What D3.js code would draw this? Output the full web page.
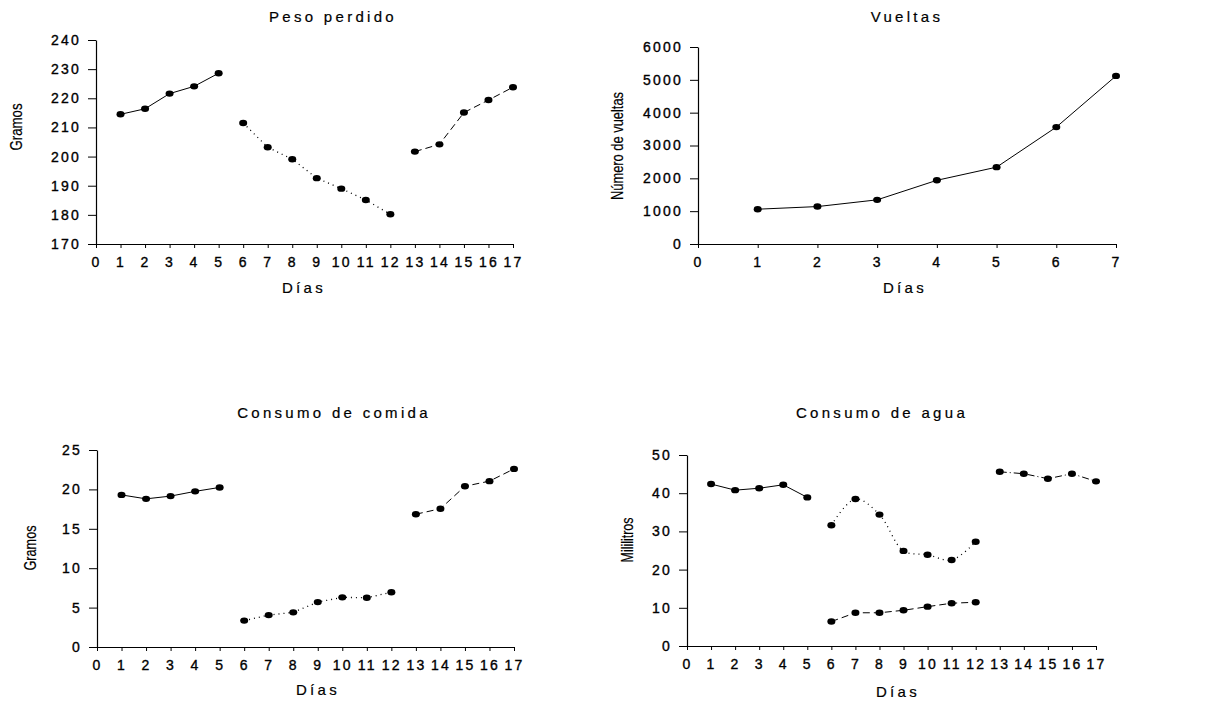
<!DOCTYPE html>
<html lang="es">
<head>
<meta charset="utf-8">
<title>Peso, vueltas, comida y agua</title>
<script src="https://cdn.jsdelivr.net/npm/d3@7/dist/d3.min.js"></script>
<style>
    body { margin: 0; background: #fff; }
    svg { display: block; }
    .tick text { font-family: "Liberation Sans", Arial, sans-serif; font-size: 14px; letter-spacing: 2.2px; fill: #000; stroke: #000; stroke-width: 0.35px; }
    .title, .xlab { font-family: "Liberation Sans", Arial, sans-serif; font-size: 15px; letter-spacing: 3.3px; fill: #000; stroke: #000; stroke-width: 0.2px; }
    .ylab { font-family: "Liberation Sans", Arial, sans-serif; font-size: 17px; fill: #000; stroke: #000; stroke-width: 0.2px; }
    .domain, .tick line { stroke: #000; }
</style>
</head>
<body>
<div id="chart"></div>
<script>
"use strict";
// ---- datos ----
var dias17 = [0,1,2,3,4,5,6,7,8,9,10,11,12,13,14,15,16,17];
var dias7 = [0,1,2,3,4,5,6,7];
var diasBase = [1,2,3,4,5];
var diasRestr = [6,7,8,9,10,11,12];
var diasRecup = [13,14,15,16,17];

var pesoTicks = [170,180,190,200,210,220,230,240];
var pesoBase = [214.5,216.4,221.6,224.1,228.6];
var pesoRestr = [211.5,203.2,199.1,192.6,189.0,185.1,180.2];
var pesoRecup = [201.7,204.2,215.1,219.4,223.8];

var vueltasTicks = [0,1000,2000,3000,4000,5000,6000];
var vueltasDias = [1,2,3,4,5,6,7];
var vueltas = [1060,1140,1345,1940,2340,3560,5120];

var comidaTicks = [0,5,10,15,20,25];
var comidaBase = [19.3,18.8,19.15,19.75,20.25];
var comidaRestr = [3.35,4.05,4.4,5.7,6.3,6.25,6.95];
var comidaRecup = [16.85,17.55,20.4,21.05,22.6];

var aguaTicks = [0,10,20,30,40,50];
var aguaBase = [42.4,40.8,41.3,42.2,38.9];
var aguaRestrA = [31.6,38.5,34.4,24.9,23.9,22.5,27.3];
var aguaRestrB = [6.4,8.7,8.7,9.35,10.3,11.2,11.45];
var aguaRecup = [45.6,45.1,43.8,45.1,43.1];

var svg = d3.select("#chart").append("svg")
    .attr("width", 1216)
    .attr("height", 702);

function zip(xs, ys) {
    return xs.map(function(x, i) { return [x, ys[i]]; });
}

function panel(cfg) {
    var g = svg.append("g");
    var x = d3.scaleLinear().domain([0, cfg.xmax]).range([cfg.x0, cfg.x1]);
    var y = d3.scaleLinear().domain([cfg.yTicks[0], cfg.yTicks[cfg.yTicks.length - 1]]).range([cfg.y0, cfg.y1]);

    g.append("g")
        .attr("transform", "translate(0," + cfg.y0 + ")")
        .call(d3.axisBottom(x).tickValues(cfg.xTicks).tickFormat(d3.format("d"))
            .tickSize(4).tickSizeOuter(0).tickPadding(9));
    g.append("g")
        .attr("transform", "translate(" + cfg.x0 + ",0)")
        .call(d3.axisLeft(y).tickValues(cfg.yTicks).tickFormat(d3.format("d"))
            .tickSize(8).tickSizeOuter(0).tickPadding(7));
    g.selectAll(".domain").attr("stroke-width", 1.2);

    g.append("text").attr("class", "title")
        .attr("x", cfg.tx).attr("y", cfg.ty)
        .attr("text-anchor", "middle").text(cfg.title);
    g.append("text").attr("class", "xlab")
        .attr("x", cfg.lx).attr("y", cfg.ly)
        .attr("text-anchor", "middle").text("Días");
    g.append("text").attr("class", "ylab")
        .attr("transform", "translate(" + cfg.yx + "," + cfg.yy + ") rotate(-90)")
        .attr("text-anchor", "middle")
        .attr("textLength", cfg.ylen)
        .attr("lengthAdjust", "spacingAndGlyphs")
        .text(cfg.ylabel);

    cfg.series.forEach(function(s) {
        var pts = zip(s.dias, s.vals);
        var line = d3.line()
            .x(function(d) { return x(d[0]); })
            .y(function(d) { return y(d[1]); })
            .curve(s.curve || d3.curveLinear);
        g.append("path")
            .attr("d", line(pts))
            .attr("fill", "none")
            .attr("stroke", "#000")
            .attr("stroke-width", s.dash === "1,4" ? 1.3 : 1)
            .attr("stroke-dasharray", s.dash);
        g.selectAll(null).data(pts).enter().append("ellipse")
            .attr("cx", function(d) { return x(d[0]); })
            .attr("cy", function(d) { return y(d[1]); })
            .attr("rx", 4).attr("ry", 3.2)
            .attr("fill", "#000");
    });
}

panel({
    title: "Peso perdido", ylabel: "Gramos", ylen: 47,
    x0: 96, x1: 513, y0: 244, y1: 40, xmax: 17,
    xTicks: dias17, yTicks: pesoTicks,
    tx: 333, ty: 22, lx: 304, ly: 293, yx: 22, yy: 127,
    series: [
        { dias: diasBase, vals: pesoBase, dash: null },
        { dias: diasRestr, vals: pesoRestr, dash: "1,4" },
        { dias: diasRecup, vals: pesoRecup, dash: "7,4" }
    ]
});

panel({
    title: "Vueltas", ylabel: "Número de vueltas", ylen: 108,
    x0: 698, x1: 1116, y0: 244, y1: 47, xmax: 7,
    xTicks: dias7, yTicks: vueltasTicks,
    tx: 907, ty: 22, lx: 905, ly: 293, yx: 623, yy: 146,
    series: [
        { dias: vueltasDias, vals: vueltas, dash: null }
    ]
});

panel({
    title: "Consumo de comida", ylabel: "Gramos", ylen: 45,
    x0: 97, x1: 514, y0: 647, y1: 450, xmax: 17,
    xTicks: dias17, yTicks: comidaTicks,
    tx: 334, ty: 418, lx: 318, ly: 695, yx: 36, yy: 548,
    series: [
        { dias: diasBase, vals: comidaBase, dash: null },
        { dias: diasRestr, vals: comidaRestr, dash: "1,4" },
        { dias: diasRecup, vals: comidaRecup, dash: "7,4" }
    ]
});

panel({
    title: "Consumo de agua", ylabel: "Mililitros", ylen: 45,
    x0: 687, x1: 1096, y0: 646, y1: 455, xmax: 17,
    xTicks: dias17, yTicks: aguaTicks,
    tx: 882, ty: 418, lx: 898, ly: 697, yx: 633, yy: 540,
    series: [
        { dias: diasBase, vals: aguaBase, dash: null },
        { dias: diasRestr, vals: aguaRestrA, dash: "1,4", curve: d3.curveCatmullRom },
        { dias: diasRestr, vals: aguaRestrB, dash: "7,4" },
        { dias: diasRecup, vals: aguaRecup, dash: "7,3,1,3" }
    ]
});
</script>
</body>
</html>
